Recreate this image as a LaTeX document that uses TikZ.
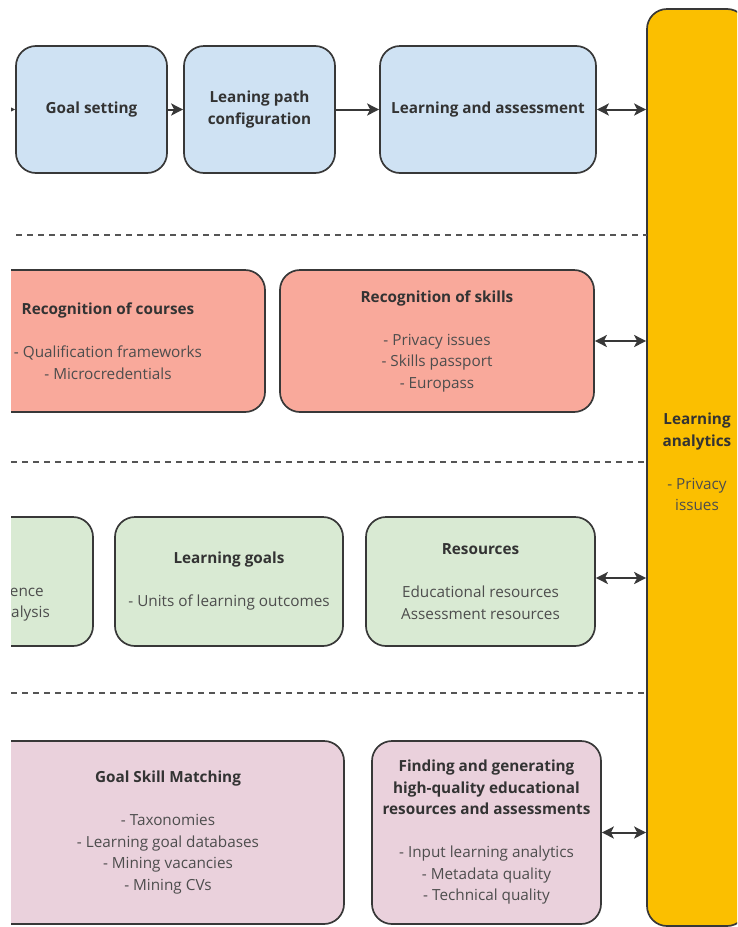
\documentclass[tikz,border=0pt]{standalone}
\usepackage{fontspec}
\setmainfont{Open Sans}
\usetikzlibrary{arrows.meta}
\definecolor{bluef}{HTML}{CFE2F3}
\definecolor{redf}{HTML}{F9A99B}
\definecolor{greenf}{HTML}{D9EAD3}
\definecolor{pinkf}{HTML}{EAD1DC}
\definecolor{yellowf}{HTML}{FBBF00}
\definecolor{edge}{HTML}{383838}
\definecolor{ttl}{HTML}{333333}
\definecolor{itm}{HTML}{4D4D4D}
\definecolor{dashc}{HTML}{555555}
\tikzset{
  box/.style={draw=edge, line width=1.7pt, rounded corners=20pt, inner sep=0pt,
    align=center, text=itm, font=\fontsize{15.3}{21.5}\selectfont},
  tip/.style={Stealth[length=12pt,width=12pt,inset=3pt]},
  conn/.style={draw=edge, line width=2pt, -{Stealth[length=12pt,width=12pt,inset=3pt]}},
  dbl/.style={draw=edge, line width=2pt, {Stealth[length=12pt,width=12pt,inset=3pt]}-{Stealth[length=12pt,width=12pt,inset=3pt]}},
  sep/.style={draw=dashc, line width=1.5pt, dash pattern=on 6pt off 5pt},
  plain/.style={inner sep=0pt, text=itm, font=\fontsize{15.3}{21.5}\selectfont}
}
\newcommand{\ttlx}[1]{{\color{ttl}\bfseries #1}}
\begin{document}
\begin{tikzpicture}[x=1pt,y=-1pt]
\useasboundingbox (0,0) rectangle (737,927);
\begin{scope}
\clip (11,0) rectangle (737,927);
% yellow column
\node[box, fill=yellowf, minimum width=100pt, minimum height=917pt] (ya) at (697,467.5) {};
\node[plain, align=center] (yatext) at (697,462) {\ttlx{Learning}\\\ttlx{analytics}\\[21.5pt]- Privacy\\issues};
% row 1
\node[box, fill=bluef, minimum width=151pt, minimum height=127pt] (gs) at (91.5,109.5) {\ttlx{Goal setting}};
\node[box, fill=bluef, minimum width=151pt, minimum height=127pt] (lp) at (259.5,109.5) {\ttlx{Leaning path}\\\ttlx{configuration}};
\node[box, fill=bluef, minimum width=216pt, minimum height=127pt] (la) at (488,109.5) {\ttlx{Learning and assessment}};
\coordinate (entry) at (-10,109.5);
\draw[conn] (entry) -- (gs.west);
\draw[conn] (gs.east) -- (lp.west);
\draw[conn] (lp.east) -- (la.west);
\draw[dbl] (la.east) -- (la.east -| ya.west);
% separators
\draw[sep] (16,235) -- (647,235);
\draw[sep] (11,462) -- (647,462);
\draw[sep] (11,693) -- (647,693);
% row 2
\node[box, fill=redf, minimum width=314pt, minimum height=142pt] (rc) at (108,341) {\ttlx{Recognition of courses}\\[21.5pt]- Qualification frameworks\\- Microcredentials};
\node[box, fill=redf, minimum width=314pt, minimum height=142pt] (rs) at (437,341) {\ttlx{Recognition of skills}\\[21.5pt]- Privacy issues\\- Skills passport\\- Europass};
\draw[dbl] (rs.east) -- (rs.east -| ya.west);
% row 3
\node[box, fill=greenf, minimum width=228pt, minimum height=129pt] (gl) at (-21,581.5) {};
\node[plain, anchor=east] (gl1) at (44,592) {ence};
\node[plain, anchor=east] (gl2) at (50,614) {alysis};
\node[box, fill=greenf, minimum width=228pt, minimum height=129pt] (lg) at (229,581.5) {\ttlx{Learning goals}\\[21.5pt]- Units of learning outcomes};
\node[box, fill=greenf, minimum width=229pt, minimum height=129pt] (res) at (480.5,581.5) {\ttlx{Resources}\\[21.5pt]Educational resources\\Assessment resources};
\draw[dbl] ([yshift=3.5pt]res.east) -- ([yshift=3.5pt]res.east -| ya.west);
% row 4
\node[box, fill=pinkf, minimum width=352pt, minimum height=183pt] (gsm) at (168,832.5) {\ttlx{Goal Skill Matching}\\[21.5pt]- Taxonomies\\- Learning goal databases\\- Mining vacancies\\- Mining CVs};
\node[box, fill=pinkf, minimum width=229pt, minimum height=183pt] (fg) at (486.5,832.5) {\ttlx{Finding and generating}\\\ttlx{high-quality educational}\\\ttlx{resources and assessments}\\[21.5pt]- Input learning analytics\\- Metadata quality\\- Technical quality};
\draw[dbl] (fg.east) -- (fg.east -| ya.west);
\end{scope}
\end{tikzpicture}
\end{document}
